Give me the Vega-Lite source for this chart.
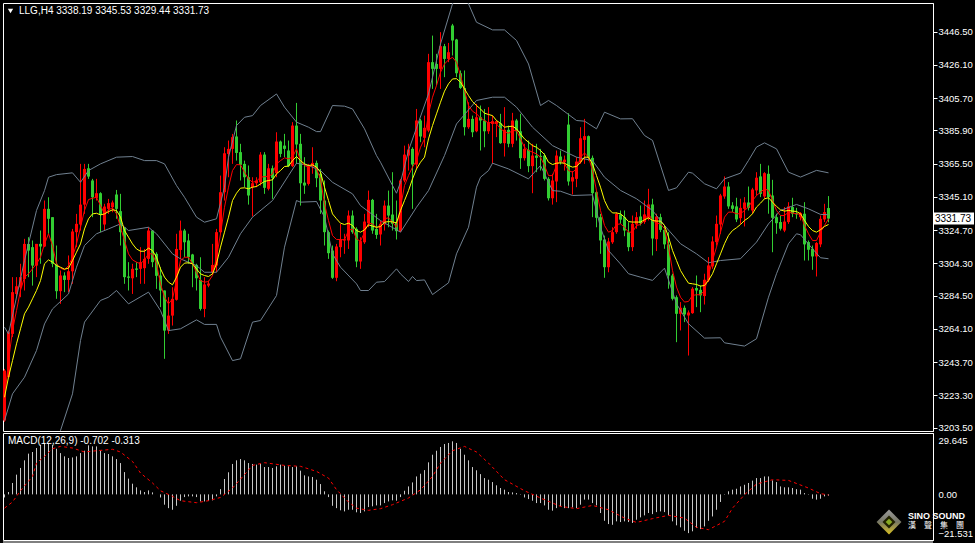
{"$schema":"https://vega.github.io/schema/vega-lite/v6.json","background":"#000000","padding":{"left":2,"top":2,"right":0,"bottom":0},"spacing":-1,"config":{"view":{"stroke":"#ffffff","strokeWidth":1,"fill":"#000000"},"text":{"font":"Liberation Sans"},"axis":{"labelOverlap":false}},
"datasets":{"bars":[
{"k":0,"o":3207.8,"h":3239.5,"l":3207,"c":3238.5,"f":3220.1,"s":3222.1,"m":-1.7},
{"k":1,"o":3234.4,"h":3263,"l":3234.4,"c":3262,"f":3244.6,"s":3234.4,"m":1.3},
{"k":2,"o":3261,"h":3295.8,"l":3259,"c":3286.6,"f":3263,"s":3244.6,"m":6.3},
{"k":3,"o":3285.5,"h":3295.8,"l":3283.5,"c":3290.2,"f":3275.3,"s":3254.9,"m":10.9},
{"k":4,"o":3289.6,"h":3304,"l":3283.5,"c":3295.8,"f":3287.6,"s":3264.1,"m":14.6},
{"k":5,"o":3294.7,"h":3319.3,"l":3287.6,"c":3316.2,"f":3295.8,"s":3273.3,"m":18.8},
{"k":6,"o":3316.2,"h":3320.3,"l":3295.8,"c":3312.1,"f":3297.8,"s":3277.4,"m":22.5},
{"k":7,"o":3314.2,"h":3318.3,"l":3290.6,"c":3302.9,"f":3300.9,"s":3282.5,"m":23.4},
{"k":8,"o":3302.9,"h":3316.2,"l":3295.8,"c":3316.2,"f":3304,"s":3287.6,"m":25.6},
{"k":9,"o":3316.2,"h":3324.4,"l":3304,"c":3314.6,"f":3308,"s":3293.7,"m":27.4},
{"k":10,"o":3314.6,"h":3342.8,"l":3314.2,"c":3337.7,"f":3316.2,"s":3304,"m":28.4},
{"k":11,"o":3337.7,"h":3344.8,"l":3322.4,"c":3331.6,"f":3322.4,"s":3306.4,"m":28.4},
{"k":12,"o":3332.6,"h":3332.6,"l":3301.9,"c":3304,"f":3315.2,"s":3305,"m":27.4},
{"k":13,"o":3304,"h":3315.2,"l":3282.5,"c":3287.2,"f":3304,"s":3302.9,"m":25.2},
{"k":14,"o":3287.2,"h":3299.9,"l":3279.4,"c":3296.8,"f":3301.3,"s":3301.9,"m":22.8},
{"k":15,"o":3296.8,"h":3298.8,"l":3286.6,"c":3294.1,"f":3300.3,"s":3300.7,"m":21},
{"k":16,"o":3294.1,"h":3309.1,"l":3286.6,"c":3299.4,"f":3302.9,"s":3301.3,"m":20.1},
{"k":17,"o":3299.4,"h":3325.4,"l":3291.7,"c":3323.8,"f":3308,"s":3306,"m":20.4},
{"k":18,"o":3323.4,"h":3334.6,"l":3314.2,"c":3328.5,"f":3316.2,"s":3311.1,"m":21},
{"k":19,"o":3328.1,"h":3365.3,"l":3324.4,"c":3340.3,"f":3326.4,"s":3316.2,"m":22.8},
{"k":20,"o":3340.3,"h":3365.3,"l":3334.6,"c":3362.2,"f":3336.7,"s":3325.4,"m":24.1},
{"k":21,"o":3362.6,"h":3365.3,"l":3356.1,"c":3357.5,"f":3343.4,"s":3331.6,"m":27.1},
{"k":22,"o":3355.1,"h":3356.1,"l":3332.6,"c":3344.8,"f":3344.2,"s":3334.6,"m":26.5},
{"k":23,"o":3344.4,"h":3356.1,"l":3342.8,"c":3347.3,"f":3344.8,"s":3335,"m":26.5},
{"k":24,"o":3347.3,"h":3347.9,"l":3323.4,"c":3334.2,"f":3339.7,"s":3334,"m":24.1},
{"k":25,"o":3328.1,"h":3340.8,"l":3324.4,"c":3339.1,"f":3334.6,"s":3334.6,"m":22.8},
{"k":26,"o":3337.7,"h":3343.8,"l":3334.6,"c":3341.2,"f":3337.1,"s":3336,"m":22.3},
{"k":27,"o":3338.7,"h":3342.8,"l":3335.6,"c":3341.6,"f":3338.3,"s":3337.1,"m":21},
{"k":28,"o":3346.5,"h":3349.3,"l":3331.6,"c":3337.7,"f":3334.6,"s":3336.7,"m":19.5},
{"k":29,"o":3336.3,"h":3346.9,"l":3315.2,"c":3323.4,"f":3326.4,"s":3332.6,"m":17.3},
{"k":30,"o":3326.4,"h":3326.4,"l":3291.7,"c":3295.8,"f":3318.3,"s":3324.4,"m":12.3},
{"k":31,"o":3296.2,"h":3305,"l":3287.6,"c":3295.4,"f":3310.1,"s":3320.3,"m":8.7},
{"k":32,"o":3295.1,"h":3304,"l":3285.5,"c":3300.9,"f":3306.4,"s":3316.2,"m":5.9},
{"k":33,"o":3301.1,"h":3305,"l":3295.8,"c":3300.3,"f":3305,"s":3313.1,"m":3.9},
{"k":34,"o":3300.9,"h":3314.2,"l":3291.7,"c":3305,"f":3304,"s":3311.7,"m":2.2},
{"k":35,"o":3301.3,"h":3313.1,"l":3291.7,"c":3307,"f":3306.4,"s":3311.7,"m":1.3},
{"k":36,"o":3307,"h":3326.4,"l":3304,"c":3324.4,"f":3310.1,"s":3313.6,"m":2.2},
{"k":37,"o":3324.4,"h":3324.4,"l":3301.9,"c":3305,"f":3310.1,"s":3312.1,"m":1.1},
{"k":38,"o":3310.1,"h":3311.1,"l":3288.6,"c":3296.6,"f":3304,"s":3308,"m":0},
{"k":39,"o":3296.8,"h":3301.9,"l":3277.4,"c":3287.6,"f":3291.7,"s":3300.9,"m":-1.7},
{"k":40,"o":3287.6,"h":3287.6,"l":3245.7,"c":3263,"f":3283.5,"s":3295.8,"m":-5.7},
{"k":41,"o":3263,"h":3283.5,"l":3261,"c":3272.2,"f":3279.4,"s":3292.7,"m":-7.6},
{"k":42,"o":3272.2,"h":3289.6,"l":3266.1,"c":3282.5,"f":3282.5,"s":3291.1,"m":-8.5},
{"k":43,"o":3281.9,"h":3322.4,"l":3281.4,"c":3313.1,"f":3293.7,"s":3295.8,"m":-6.3},
{"k":44,"o":3312.5,"h":3330.5,"l":3307,"c":3324.4,"f":3306,"s":3301.9,"m":-3.5},
{"k":45,"o":3324.4,"h":3325.4,"l":3308,"c":3317.2,"f":3308,"s":3304.4,"m":-1.5},
{"k":46,"o":3318.3,"h":3322.4,"l":3304,"c":3308,"f":3308,"s":3304.6,"m":-1.1},
{"k":47,"o":3309.7,"h":3310.1,"l":3289.6,"c":3304,"f":3304,"s":3304,"m":-1.1},
{"k":48,"o":3303.3,"h":3304,"l":3287.6,"c":3295.1,"f":3298.8,"s":3300.9,"m":-1.5},
{"k":49,"o":3294.1,"h":3308,"l":3275.3,"c":3276.3,"f":3293.7,"s":3297.8,"m":-3.9},
{"k":50,"o":3276.3,"h":3295.8,"l":3271.2,"c":3291.3,"f":3292.7,"s":3296.8,"m":-3.9},
{"k":51,"o":3290.6,"h":3293.7,"l":3289.6,"c":3291.9,"f":3293.1,"s":3296.2,"m":-3.5},
{"k":52,"o":3298.8,"h":3316.2,"l":3297.8,"c":3303.3,"f":3296.8,"s":3297.8,"m":-3.3},
{"k":53,"o":3302.9,"h":3325.4,"l":3298.8,"c":3323.4,"f":3308,"s":3304,"m":-1.1},
{"k":54,"o":3323.4,"h":3358.1,"l":3322.4,"c":3347.9,"f":3322.4,"s":3314.2,"m":2.9},
{"k":55,"o":3347.9,"h":3375.5,"l":3342.8,"c":3371.8,"f":3338.7,"s":3323.4,"m":8.5},
{"k":56,"o":3371.4,"h":3379.6,"l":3357.1,"c":3374.5,"f":3351,"s":3332.6,"m":12.2},
{"k":57,"o":3374.5,"h":3383.7,"l":3365.3,"c":3381.7,"f":3361.2,"s":3342.8,"m":16.8},
{"k":58,"o":3382.1,"h":3391.9,"l":3367.3,"c":3372,"f":3364.9,"s":3347.3,"m":18.8},
{"k":59,"o":3372.5,"h":3377.6,"l":3355.1,"c":3364.7,"f":3364.7,"s":3350.4,"m":19.5},
{"k":60,"o":3365.3,"h":3367.3,"l":3351,"c":3357.1,"f":3360.2,"s":3350.6,"m":18.8},
{"k":61,"o":3357.1,"h":3364.3,"l":3340.3,"c":3345.9,"f":3356.1,"s":3350,"m":17.3},
{"k":62,"o":3351,"h":3357.1,"l":3333,"c":3353.4,"f":3354,"s":3351,"m":16.8},
{"k":63,"o":3353.4,"h":3357.1,"l":3351,"c":3355.1,"f":3354.7,"s":3351.4,"m":16.4},
{"k":64,"o":3354,"h":3372.5,"l":3352,"c":3371,"f":3357.1,"s":3353,"m":16.9},
{"k":65,"o":3371,"h":3372.5,"l":3346.9,"c":3350.6,"f":3357.5,"s":3354.5,"m":15.1},
{"k":66,"o":3350,"h":3365.3,"l":3349,"c":3362.6,"f":3357.5,"s":3355.1,"m":15.1},
{"k":67,"o":3362.6,"h":3364.3,"l":3343.8,"c":3356.7,"f":3359.2,"s":3355.5,"m":14.6},
{"k":68,"o":3359.6,"h":3384.7,"l":3357.1,"c":3379,"f":3365.3,"s":3359.2,"m":15.5},
{"k":69,"o":3379,"h":3379.6,"l":3369.4,"c":3371.4,"f":3367.3,"s":3361.2,"m":16.4},
{"k":70,"o":3376.5,"h":3383.7,"l":3369.4,"c":3374.5,"f":3369,"s":3363.7,"m":15.8},
{"k":71,"o":3373.5,"h":3379.6,"l":3363.3,"c":3363.9,"f":3368.4,"s":3363.9,"m":15.5},
{"k":72,"o":3363.9,"h":3390.9,"l":3363.3,"c":3388.8,"f":3369.4,"s":3367.3,"m":15.1},
{"k":73,"o":3388.8,"h":3402.7,"l":3365.3,"c":3377.2,"f":3374.5,"s":3369.8,"m":15.5},
{"k":74,"o":3377.6,"h":3383.7,"l":3339.7,"c":3353.4,"f":3367.3,"s":3367.3,"m":13.1},
{"k":75,"o":3353.8,"h":3369.4,"l":3346.9,"c":3352,"f":3364.3,"s":3365.3,"m":10.5},
{"k":76,"o":3353,"h":3365.3,"l":3352,"c":3363.9,"f":3363.3,"s":3364.3,"m":9.9},
{"k":77,"o":3363.9,"h":3375.5,"l":3359.2,"c":3365.9,"f":3364.7,"s":3364.7,"m":9.6},
{"k":78,"o":3365.9,"h":3367.3,"l":3351,"c":3356.5,"f":3362.2,"s":3363.3,"m":8.1},
{"k":79,"o":3359.2,"h":3362.2,"l":3334.6,"c":3342.8,"f":3356.1,"s":3360.2,"m":5.7},
{"k":80,"o":3342.8,"h":3355.1,"l":3315.2,"c":3323.4,"f":3340.8,"s":3351,"m":1.7},
{"k":81,"o":3323.4,"h":3324.4,"l":3307,"c":3310.5,"f":3330.5,"s":3342.8,"m":-1.5},
{"k":82,"o":3312.1,"h":3315.2,"l":3294.7,"c":3295.4,"f":3321.3,"s":3334.6,"m":-6.3},
{"k":83,"o":3295.4,"h":3316.2,"l":3293.3,"c":3314.6,"f":3318.9,"s":3331.6,"m":-7.6},
{"k":84,"o":3314.2,"h":3328.5,"l":3308,"c":3318.7,"f":3318.9,"s":3328.9,"m":-8.8},
{"k":85,"o":3318.3,"h":3322.4,"l":3310.1,"c":3319.1,"f":3318.7,"s":3328.1,"m":-9.4},
{"k":86,"o":3318.3,"h":3336.7,"l":3313.1,"c":3333.6,"f":3324.4,"s":3328.9,"m":-8.5},
{"k":87,"o":3333.6,"h":3336.7,"l":3322.4,"c":3323.4,"f":3325.4,"s":3327.5,"m":-8.5},
{"k":88,"o":3325.4,"h":3326.4,"l":3301.9,"c":3305.4,"f":3319.3,"s":3324.4,"m":-9.9},
{"k":89,"o":3305.4,"h":3320.3,"l":3300.9,"c":3317.9,"f":3317.8,"s":3323.4,"m":-10.3},
{"k":90,"o":3317.2,"h":3334.6,"l":3316.2,"c":3329.9,"f":3323.4,"s":3324.8,"m":-9.4},
{"k":91,"o":3328.9,"h":3348.9,"l":3326.4,"c":3343.2,"f":3328.9,"s":3327.9,"m":-7},
{"k":92,"o":3343.2,"h":3343.8,"l":3322.4,"c":3324.4,"f":3328.5,"s":3327.1,"m":-6.6},
{"k":93,"o":3325.4,"h":3334.6,"l":3319.3,"c":3321.7,"f":3326,"s":3326.4,"m":-6.1},
{"k":94,"o":3322,"h":3330.5,"l":3315.2,"c":3328.5,"f":3328.1,"s":3326.8,"m":-6.1},
{"k":95,"o":3328.1,"h":3342.8,"l":3324.4,"c":3339.7,"f":3331.6,"s":3329.5,"m":-4.8},
{"k":96,"o":3339.7,"h":3348.9,"l":3326.4,"c":3333.6,"f":3332.2,"s":3329.9,"m":-3.9},
{"k":97,"o":3334.2,"h":3360.2,"l":3324.4,"c":3328.5,"f":3329.5,"s":3329.7,"m":-3.3},
{"k":98,"o":3329.5,"h":3342.8,"l":3318.9,"c":3324,"f":3326.4,"s":3329.1,"m":-3.5},
{"k":99,"o":3324,"h":3356.1,"l":3323.4,"c":3355.1,"f":3338.7,"s":3336.7,"m":-1.5},
{"k":100,"o":3355.1,"h":3376.5,"l":3354,"c":3371,"f":3352,"s":3342.8,"m":2},
{"k":101,"o":3370.4,"h":3377.6,"l":3361.2,"c":3374.1,"f":3358.1,"s":3348.9,"m":4.4},
{"k":102,"o":3374.5,"h":3375.5,"l":3337.7,"c":3364.9,"f":3363.3,"s":3356.1,"m":6.6},
{"k":103,"o":3364.9,"h":3399,"l":3362.2,"c":3391.9,"f":3367.3,"s":3362.2,"m":9.9},
{"k":104,"o":3391.9,"h":3392.9,"l":3378.6,"c":3382.1,"f":3375.5,"s":3366.3,"m":11.4},
{"k":105,"o":3381.3,"h":3394.9,"l":3375.5,"c":3387.4,"f":3380.6,"s":3369.4,"m":13.4},
{"k":106,"o":3385.7,"h":3432.8,"l":3384.7,"c":3427.7,"f":3396,"s":3380.6,"m":17.7},
{"k":107,"o":3427.7,"h":3444,"l":3411.3,"c":3423.6,"f":3406.2,"s":3388.8,"m":21.9},
{"k":108,"o":3426.6,"h":3432.8,"l":3413.4,"c":3423.6,"f":3413.4,"s":3396,"m":24.1},
{"k":109,"o":3423.6,"h":3446.1,"l":3411.3,"c":3437.5,"f":3421.5,"s":3403.1,"m":26.2},
{"k":110,"o":3437.5,"h":3438.9,"l":3418.5,"c":3429.7,"f":3426.6,"s":3409.9,"m":27.8},
{"k":111,"o":3429.7,"h":3439.5,"l":3427.7,"c":3433.8,"f":3429.1,"s":3414.4,"m":28.4},
{"k":112,"o":3450.2,"h":3451.2,"l":3431.8,"c":3441,"f":3430.7,"s":3417.4,"m":29.3},
{"k":113,"o":3441.6,"h":3442,"l":3418.5,"c":3420.9,"f":3427.7,"s":3417.6,"m":28.4},
{"k":114,"o":3420.9,"h":3422.6,"l":3411.3,"c":3411.9,"f":3419.5,"s":3415.4,"m":25.2},
{"k":115,"o":3411.9,"h":3422.6,"l":3382.7,"c":3387.8,"f":3410.3,"s":3411.3,"m":21.9},
{"k":116,"o":3387.8,"h":3403.1,"l":3386.8,"c":3392.9,"f":3401.1,"s":3407.2,"m":18.8},
{"k":117,"o":3392.9,"h":3394.9,"l":3381.7,"c":3384.7,"f":3397.6,"s":3403.5,"m":15.1},
{"k":118,"o":3385.3,"h":3402.1,"l":3384.7,"c":3393.9,"f":3396,"s":3401.1,"m":13.3},
{"k":119,"o":3393.9,"h":3401.1,"l":3373.5,"c":3391.9,"f":3393.5,"s":3399,"m":11.2},
{"k":120,"o":3391.9,"h":3399,"l":3375.5,"c":3385.3,"f":3391.9,"s":3396.4,"m":9},
{"k":121,"o":3385.3,"h":3400.1,"l":3383.7,"c":3390.9,"f":3390.4,"s":3395.6,"m":8.1},
{"k":122,"o":3389.8,"h":3394.9,"l":3365.3,"c":3391.5,"f":3390.9,"s":3394.9,"m":6.8},
{"k":123,"o":3389.8,"h":3391.9,"l":3381.7,"c":3391.5,"f":3389.8,"s":3391.9,"m":5},
{"k":124,"o":3390.2,"h":3396,"l":3377.6,"c":3378,"f":3386.8,"s":3390.2,"m":3.5},
{"k":125,"o":3378,"h":3400.1,"l":3369.8,"c":3386.2,"f":3385.1,"s":3387.8,"m":2.6},
{"k":126,"o":3386.2,"h":3388.8,"l":3375.5,"c":3377.6,"f":3384.1,"s":3388.2,"m":1.3},
{"k":127,"o":3377.6,"h":3396.6,"l":3375.5,"c":3391.9,"f":3385.7,"s":3388.4,"m":1.1},
{"k":128,"o":3391.9,"h":3392.9,"l":3379.6,"c":3385.3,"f":3385.7,"s":3386.8,"m":0.7},
{"k":129,"o":3385.3,"h":3396,"l":3362.2,"c":3368.8,"f":3380.6,"s":3383.7,"m":0.2},
{"k":130,"o":3368.8,"h":3377.6,"l":3367.3,"c":3374.5,"f":3375.5,"s":3380.6,"m":-1.7},
{"k":131,"o":3373.9,"h":3379.6,"l":3360.2,"c":3363.9,"f":3373.5,"s":3378.6,"m":-2.6},
{"k":132,"o":3363.9,"h":3377.6,"l":3347.3,"c":3370.4,"f":3372.5,"s":3376.5,"m":-3.5},
{"k":133,"o":3370.4,"h":3377.6,"l":3360.2,"c":3369,"f":3371.4,"s":3375.5,"m":-4.8},
{"k":134,"o":3370.2,"h":3374.5,"l":3361.2,"c":3369.4,"f":3369.4,"s":3373.5,"m":-4.8},
{"k":135,"o":3370.4,"h":3371.8,"l":3355.1,"c":3356.1,"f":3364.3,"s":3371,"m":-6.1},
{"k":136,"o":3356.1,"h":3357.1,"l":3342.8,"c":3344.2,"f":3358.1,"s":3366.3,"m":-8.5},
{"k":137,"o":3344.2,"h":3359.2,"l":3340.3,"c":3355.1,"f":3358.1,"s":3364.9,"m":-9},
{"k":138,"o":3354.5,"h":3373.5,"l":3341.8,"c":3370.4,"f":3364.3,"s":3365.7,"m":-7.6},
{"k":139,"o":3369.8,"h":3373.5,"l":3364.9,"c":3366.3,"f":3367.3,"s":3365.9,"m":-6.6},
{"k":140,"o":3366.3,"h":3370.4,"l":3361.2,"c":3367.9,"f":3365.3,"s":3365.7,"m":-7.6},
{"k":141,"o":3389.4,"h":3396.4,"l":3352,"c":3354.5,"f":3361.2,"s":3364.3,"m":-7.6},
{"k":142,"o":3354.5,"h":3360.8,"l":3346.5,"c":3357.1,"f":3360.2,"s":3363.3,"m":-7.2},
{"k":143,"o":3356.1,"h":3369.4,"l":3351,"c":3366.7,"f":3362.2,"s":3363.7,"m":-7.6},
{"k":144,"o":3366.3,"h":3387.8,"l":3365.3,"c":3381,"f":3369.4,"s":3366.3,"m":-5.7},
{"k":145,"o":3380,"h":3392.9,"l":3365.3,"c":3382.3,"f":3372,"s":3369.4,"m":-2.9},
{"k":146,"o":3382.3,"h":3382.7,"l":3367.3,"c":3369,"f":3369.4,"s":3369.4,"m":-2.9},
{"k":147,"o":3369,"h":3370.4,"l":3332.6,"c":3347.3,"f":3361.2,"s":3365.3,"m":-4.8},
{"k":148,"o":3347.9,"h":3348.9,"l":3326.4,"c":3332.2,"f":3348.9,"s":3358.1,"m":-6.1},
{"k":149,"o":3332.6,"h":3334.6,"l":3310.1,"c":3318.3,"f":3336.7,"s":3351,"m":-10.3},
{"k":150,"o":3318.9,"h":3321.3,"l":3295.4,"c":3301.9,"f":3327.5,"s":3342.8,"m":-14.6},
{"k":151,"o":3301.9,"h":3319.9,"l":3298.8,"c":3317.7,"f":3323.4,"s":3337.7,"m":-16.4},
{"k":152,"o":3317.2,"h":3326.4,"l":3316.2,"c":3323.4,"f":3324.4,"s":3335.2,"m":-16.8},
{"k":153,"o":3323.4,"h":3335.6,"l":3322.4,"c":3334.6,"f":3328.1,"s":3335.2,"m":-14.9},
{"k":154,"o":3334.2,"h":3336.7,"l":3328.5,"c":3331.1,"f":3328.5,"s":3334.6,"m":-15.3},
{"k":155,"o":3332.6,"h":3336.7,"l":3320.9,"c":3324.4,"f":3326.4,"s":3332.6,"m":-14.9},
{"k":156,"o":3323.4,"h":3329.5,"l":3311.7,"c":3314.2,"f":3323.4,"s":3329.9,"m":-15.3},
{"k":157,"o":3314.2,"h":3333.6,"l":3311.8,"c":3328.5,"f":3323.4,"s":3329.6,"m":-15.8},
{"k":158,"o":3328.1,"h":3335.7,"l":3325.5,"c":3332.6,"f":3327.5,"s":3329.6,"m":-14},
{"k":159,"o":3333,"h":3339.8,"l":3327.5,"c":3328.9,"f":3328.1,"s":3329.6,"m":-12.7},
{"k":160,"o":3329.6,"h":3342.8,"l":3328.5,"c":3334.3,"f":3330.6,"s":3331,"m":-11.6},
{"k":161,"o":3332.2,"h":3350,"l":3330.6,"c":3340.4,"f":3334.7,"s":3332.2,"m":-10.3},
{"k":162,"o":3340.4,"h":3343.9,"l":3309.1,"c":3319.5,"f":3330.6,"s":3330.6,"m":-10.9},
{"k":163,"o":3319.1,"h":3334.7,"l":3311.8,"c":3333,"f":3328.9,"s":3330.2,"m":-9.8},
{"k":164,"o":3332.6,"h":3334.7,"l":3323.4,"c":3324.8,"f":3328.5,"s":3330.2,"m":-9.4},
{"k":165,"o":3324.8,"h":3327.5,"l":3313.2,"c":3315.9,"f":3325.5,"s":3327.5,"m":-9.8},
{"k":166,"o":3315.9,"h":3323.4,"l":3288.7,"c":3296.8,"f":3314.2,"s":3320.4,"m":-11.6},
{"k":167,"o":3296.8,"h":3297.9,"l":3281.5,"c":3282.5,"f":3299.9,"s":3312.2,"m":-14.9},
{"k":168,"o":3283.5,"h":3284.6,"l":3255.9,"c":3273.3,"f":3289.7,"s":3306,"m":-17.1},
{"k":169,"o":3273.3,"h":3280.5,"l":3263.1,"c":3277,"f":3283.5,"s":3299.9,"m":-18.2},
{"k":170,"o":3277,"h":3278.4,"l":3268.2,"c":3272.9,"f":3280.5,"s":3295.8,"m":-20.1},
{"k":171,"o":3272.3,"h":3275.4,"l":3247.7,"c":3274.1,"f":3280.9,"s":3292.1,"m":-21.4},
{"k":172,"o":3273.7,"h":3289.7,"l":3273.3,"c":3288.7,"f":3284.6,"s":3291.7,"m":-20.4},
{"k":173,"o":3289.1,"h":3296.8,"l":3277.4,"c":3287.6,"f":3285,"s":3291.3,"m":-18.6},
{"k":174,"o":3288,"h":3290.7,"l":3274.3,"c":3284.6,"f":3285,"s":3290.3,"m":-19.2},
{"k":175,"o":3284.2,"h":3297.9,"l":3279,"c":3294.2,"f":3287.6,"s":3290.7,"m":-17.7},
{"k":176,"o":3293.8,"h":3308.1,"l":3292.8,"c":3303,"f":3296.8,"s":3293.8,"m":-14.6},
{"k":177,"o":3302.4,"h":3320.8,"l":3300.9,"c":3317.7,"f":3306,"s":3297.9,"m":-12.2},
{"k":178,"o":3317.3,"h":3333.6,"l":3315.2,"c":3328.5,"f":3314.2,"s":3304,"m":-8.5},
{"k":179,"o":3328.1,"h":3346.9,"l":3322.4,"c":3345.9,"f":3323.4,"s":3310.1,"m":-4.2},
{"k":180,"o":3345.3,"h":3357.6,"l":3343.9,"c":3351.4,"f":3332.6,"s":3316.3,"m":0.2},
{"k":181,"o":3351.4,"h":3354.1,"l":3337.7,"c":3339.2,"f":3335.7,"s":3321.4,"m":1.7},
{"k":182,"o":3339.8,"h":3341.8,"l":3335.7,"c":3337.7,"f":3335.7,"s":3324.4,"m":2.6},
{"k":183,"o":3339.2,"h":3344.5,"l":3329.6,"c":3331.2,"f":3334.7,"s":3326.1,"m":3.1},
{"k":184,"o":3332,"h":3343.9,"l":3328.5,"c":3338.3,"f":3334.7,"s":3328.1,"m":4.4},
{"k":185,"o":3337.7,"h":3344.9,"l":3326.9,"c":3341.6,"f":3336.7,"s":3330.6,"m":5.3},
{"k":186,"o":3341.6,"h":3351.4,"l":3336.7,"c":3338.3,"f":3338.8,"s":3332.2,"m":6.3},
{"k":187,"o":3336.7,"h":3350.6,"l":3334.7,"c":3349.6,"f":3342.8,"s":3334.7,"m":7.6},
{"k":188,"o":3349,"h":3360.2,"l":3345.9,"c":3356.8,"f":3345.9,"s":3338.8,"m":9},
{"k":189,"o":3357.6,"h":3365.3,"l":3344.9,"c":3346.9,"f":3347.9,"s":3341.2,"m":9},
{"k":190,"o":3345.3,"h":3360.2,"l":3343.9,"c":3359.6,"f":3350,"s":3343.9,"m":9.9},
{"k":191,"o":3359.2,"h":3364.3,"l":3334.7,"c":3344.9,"f":3349,"s":3344.5,"m":9.9},
{"k":192,"o":3345.9,"h":3355.5,"l":3311.1,"c":3332.2,"f":3342.8,"s":3341.8,"m":7.7},
{"k":193,"o":3332.6,"h":3334.7,"l":3322.4,"c":3328.9,"f":3336.7,"s":3339.2,"m":6.8},
{"k":194,"o":3329.6,"h":3333.6,"l":3324.4,"c":3325.5,"f":3333.6,"s":3337.1,"m":4.4},
{"k":195,"o":3324.4,"h":3338.8,"l":3323.4,"c":3329.9,"f":3333.6,"s":3336.3,"m":3.9},
{"k":196,"o":3329.6,"h":3341.8,"l":3328.5,"c":3339.2,"f":3335.7,"s":3336.7,"m":3.9},
{"k":197,"o":3338.8,"h":3344.5,"l":3332.6,"c":3334.7,"f":3335.1,"s":3336.3,"m":3.5},
{"k":198,"o":3335.1,"h":3338.3,"l":3331.6,"c":3334.3,"f":3334.7,"s":3336.1,"m":2.9},
{"k":199,"o":3332.6,"h":3335.7,"l":3330.6,"c":3335.1,"f":3334.3,"s":3334.7,"m":2.6},
{"k":200,"o":3334.7,"h":3341.8,"l":3306,"c":3315.9,"f":3327.5,"s":3330.6,"m":0.7},
{"k":201,"o":3317.3,"h":3318.3,"l":3306,"c":3312.6,"f":3322.4,"s":3326.9,"m":0.2},
{"k":202,"o":3313.2,"h":3315.2,"l":3300.3,"c":3308.5,"f":3318.3,"s":3324.4,"m":-2.4},
{"k":203,"o":3308.5,"h":3317.3,"l":3296.2,"c":3316.7,"f":3318.3,"s":3323.4,"m":-2.9},
{"k":204,"o":3315.9,"h":3333.6,"l":3314.2,"c":3331.6,"f":3323.4,"s":3324.9,"m":-2.4},
{"k":205,"o":3331.2,"h":3340.8,"l":3329.6,"c":3335.7,"f":3327.5,"s":3326.9,"m":-1.1},
{"k":206,"o":3338.19,"h":3345.53,"l":3329.44,"c":3331.73,"f":3331.6,"s":3328.1,"m":-0.702}
],
"bands":[
{"b":"u","k":0,"v":3265.1},{"b":"u","k":1,"v":3261},{"b":"u","k":5,"v":3306},{"b":"u","k":8,"v":3336.7},{"b":"u","k":10,"v":3348.9},{"b":"u","k":11,"v":3357.1},{"b":"u","k":13,"v":3358.7},{"b":"u","k":17,"v":3359.8},{"b":"u","k":19,"v":3354},{"b":"u","k":21,"v":3361.2},{"b":"u","k":24,"v":3365.3},{"b":"u","k":28,"v":3369.4},{"b":"u","k":32,"v":3369.8},{"b":"u","k":35,"v":3367.3},{"b":"u","k":38,"v":3367.3},{"b":"u","k":40,"v":3365.3},{"b":"u","k":43,"v":3352},{"b":"u","k":45,"v":3344.8},{"b":"u","k":48,"v":3332.6},{"b":"u","k":50,"v":3329.5},{"b":"u","k":53,"v":3331.6},{"b":"u","k":55,"v":3351},{"b":"u","k":56,"v":3369.4},{"b":"u","k":58,"v":3388.8},{"b":"u","k":60,"v":3393.9},{"b":"u","k":62,"v":3394.9},{"b":"u","k":64,"v":3401.1},{"b":"u","k":68,"v":3408.2},{"b":"u","k":70,"v":3400.1},{"b":"u","k":73,"v":3390.9},{"b":"u","k":76,"v":3387.8},{"b":"u","k":78,"v":3385.1},{"b":"u","k":79,"v":3385.1},{"b":"u","k":82,"v":3401.1},{"b":"u","k":85,"v":3400.7},{"b":"u","k":87,"v":3399},{"b":"u","k":90,"v":3386.8},{"b":"u","k":93,"v":3370.4},{"b":"u","k":94,"v":3366.3},{"b":"u","k":98,"v":3347.3},{"b":"u","k":99,"v":3354},{"b":"u","k":101,"v":3373.5},{"b":"u","k":106,"v":3408.2},{"b":"u","k":109,"v":3438.9},{"b":"u","k":112,"v":3463.5},{"b":"u","k":114,"v":3471},{"b":"u","k":116,"v":3463.5},{"b":"u","k":118,"v":3452.2},{"b":"u","k":122,"v":3447.5},{"b":"u","k":125,"v":3447.5},{"b":"u","k":128,"v":3441},{"b":"u","k":131,"v":3426.6},{"b":"u","k":134,"v":3401.1},{"b":"u","k":136,"v":3404.2},{"b":"u","k":138,"v":3401.1},{"b":"u","k":143,"v":3391.9},{"b":"u","k":145,"v":3391.5},{"b":"u","k":148,"v":3386.8},{"b":"u","k":150,"v":3397},{"b":"u","k":154,"v":3392.9},{"b":"u","k":157,"v":3393},{"b":"u","k":160,"v":3382.7},{"b":"u","k":162,"v":3379.7},{"b":"u","k":166,"v":3349},{"b":"u","k":168,"v":3350.6},{"b":"u","k":171,"v":3360.2},{"b":"u","k":172,"v":3359.6},{"b":"u","k":175,"v":3353.1},{"b":"u","k":178,"v":3350},{"b":"u","k":180,"v":3356.1},{"b":"u","k":184,"v":3359.6},{"b":"u","k":186,"v":3367.4},{"b":"u","k":188,"v":3375.6},{"b":"u","k":190,"v":3378.2},{"b":"u","k":193,"v":3374.5},{"b":"u","k":196,"v":3360.2},{"b":"u","k":199,"v":3357.2},{"b":"u","k":203,"v":3361.3},{"b":"u","k":206,"v":3359.8},
{"b":"m","k":0,"v":3207.8},{"b":"m","k":2,"v":3224.2},{"b":"m","k":5,"v":3234.4},{"b":"m","k":8,"v":3250.8},{"b":"m","k":10,"v":3267.1},{"b":"m","k":12,"v":3276.3},{"b":"m","k":16,"v":3285.5},{"b":"m","k":18,"v":3301.9},{"b":"m","k":20,"v":3315.2},{"b":"m","k":23,"v":3322.4},{"b":"m","k":26,"v":3325.4},{"b":"m","k":29,"v":3328.5},{"b":"m","k":31,"v":3324.4},{"b":"m","k":36,"v":3326.4},{"b":"m","k":38,"v":3322.4},{"b":"m","k":42,"v":3310.1},{"b":"m","k":44,"v":3307},{"b":"m","k":48,"v":3302.9},{"b":"m","k":50,"v":3298.8},{"b":"m","k":53,"v":3298.8},{"b":"m","k":56,"v":3308},{"b":"m","k":59,"v":3322.4},{"b":"m","k":62,"v":3332.6},{"b":"m","k":67,"v":3342.8},{"b":"m","k":71,"v":3358.1},{"b":"m","k":73,"v":3365.7},{"b":"m","k":76,"v":3364.3},{"b":"m","k":79,"v":3361.2},{"b":"m","k":82,"v":3354},{"b":"m","k":87,"v":3346.9},{"b":"m","k":89,"v":3339.7},{"b":"m","k":94,"v":3330.5},{"b":"m","k":99,"v":3323.4},{"b":"m","k":103,"v":3338.7},{"b":"m","k":106,"v":3348.9},{"b":"m","k":110,"v":3370.4},{"b":"m","k":113,"v":3389.8},{"b":"m","k":118,"v":3404.2},{"b":"m","k":122,"v":3406.2},{"b":"m","k":125,"v":3406.2},{"b":"m","k":128,"v":3400.1},{"b":"m","k":132,"v":3387.8},{"b":"m","k":137,"v":3376.5},{"b":"m","k":143,"v":3369.4},{"b":"m","k":147,"v":3367.3},{"b":"m","k":150,"v":3357.1},{"b":"m","k":154,"v":3349},{"b":"m","k":158,"v":3343.9},{"b":"m","k":162,"v":3336.7},{"b":"m","k":165,"v":3327.5},{"b":"m","k":169,"v":3316.3},{"b":"m","k":173,"v":3310.1},{"b":"m","k":176,"v":3304.6},{"b":"m","k":179,"v":3306},{"b":"m","k":184,"v":3307.1},{"b":"m","k":188,"v":3317.3},{"b":"m","k":191,"v":3328.5},{"b":"m","k":194,"v":3336.7},{"b":"m","k":198,"v":3340.4},{"b":"m","k":201,"v":3337.7},{"b":"m","k":204,"v":3334.3},{"b":"m","k":206,"v":3334.1},
{"b":"l","k":13,"v":3190},{"b":"l","k":14,"v":3201.7},{"b":"l","k":17,"v":3224.2},{"b":"l","k":19,"v":3256.9},{"b":"l","k":20,"v":3268.2},{"b":"l","k":24,"v":3281.5},{"b":"l","k":26,"v":3283.5},{"b":"l","k":28,"v":3287.6},{"b":"l","k":31,"v":3279.4},{"b":"l","k":36,"v":3286.6},{"b":"l","k":39,"v":3275.3},{"b":"l","k":41,"v":3263},{"b":"l","k":44,"v":3264.1},{"b":"l","k":48,"v":3269.6},{"b":"l","k":50,"v":3266.8},{"b":"l","k":53,"v":3266.8},{"b":"l","k":54,"v":3259},{"b":"l","k":57,"v":3244.6},{"b":"l","k":59,"v":3245.7},{"b":"l","k":62,"v":3268.2},{"b":"l","k":64,"v":3269.2},{"b":"l","k":68,"v":3284.5},{"b":"l","k":70,"v":3314.2},{"b":"l","k":73,"v":3342.8},{"b":"l","k":74,"v":3341.8},{"b":"l","k":78,"v":3342.2},{"b":"l","k":80,"v":3332.6},{"b":"l","k":82,"v":3310.1},{"b":"l","k":84,"v":3301.9},{"b":"l","k":88,"v":3291.7},{"b":"l","k":89,"v":3287.6},{"b":"l","k":91,"v":3287.6},{"b":"l","k":93,"v":3292.7},{"b":"l","k":95,"v":3293.1},{"b":"l","k":98,"v":3300.9},{"b":"l","k":99,"v":3297.8},{"b":"l","k":101,"v":3293.1},{"b":"l","k":102,"v":3296.2},{"b":"l","k":103,"v":3293.7},{"b":"l","k":105,"v":3294.1},{"b":"l","k":107,"v":3285.1},{"b":"l","k":111,"v":3292.3},{"b":"l","k":113,"v":3310.1},{"b":"l","k":116,"v":3326.4},{"b":"l","k":118,"v":3351},{"b":"l","k":119,"v":3357.1},{"b":"l","k":121,"v":3361.2},{"b":"l","k":122,"v":3365.7},{"b":"l","k":126,"v":3362.2},{"b":"l","k":131,"v":3356.1},{"b":"l","k":134,"v":3364.3},{"b":"l","k":137,"v":3348.9},{"b":"l","k":139,"v":3348.5},{"b":"l","k":142,"v":3345.9},{"b":"l","k":147,"v":3346.3},{"b":"l","k":149,"v":3326.4},{"b":"l","k":151,"v":3312.1},{"b":"l","k":154,"v":3303.9},{"b":"l","k":156,"v":3297.9},{"b":"l","k":159,"v":3295.8},{"b":"l","k":162,"v":3293.8},{"b":"l","k":165,"v":3301.3},{"b":"l","k":168,"v":3279.5},{"b":"l","k":171,"v":3267.2},{"b":"l","k":175,"v":3258.4},{"b":"l","k":179,"v":3258.6},{"b":"l","k":180,"v":3255.5},{"b":"l","k":185,"v":3253.5},{"b":"l","k":188,"v":3258},{"b":"l","k":191,"v":3283.5},{"b":"l","k":193,"v":3297.9},{"b":"l","k":196,"v":3316.3},{"b":"l","k":198,"v":3322.4},{"b":"l","k":199,"v":3321.8},{"b":"l","k":202,"v":3313.2},{"b":"l","k":204,"v":3307.7},{"b":"l","k":206,"v":3307.1}
],
"signal":[{"k":0,"v":-7.6},{"k":2,"v":-4.2},{"k":4,"v":2},{"k":7,"v":9.9},{"k":8,"v":17.3},{"k":10,"v":21},{"k":12,"v":25.2},{"k":14,"v":26.5},{"k":17,"v":25.6},{"k":20,"v":23.4},{"k":23,"v":24.1},{"k":27,"v":24.9},{"k":29,"v":23.4},{"k":32,"v":18.2},{"k":34,"v":11.8},{"k":37,"v":6.3},{"k":39,"v":2},{"k":42,"v":-1.1},{"k":44,"v":-3.5},{"k":48,"v":-4.6},{"k":51,"v":-3.5},{"k":54,"v":-1.7},{"k":57,"v":3.5},{"k":60,"v":10.9},{"k":62,"v":16},{"k":65,"v":17.5},{"k":70,"v":16},{"k":74,"v":15.5},{"k":78,"v":12.7},{"k":81,"v":9},{"k":83,"v":2.6},{"k":86,"v":-4.2},{"k":88,"v":-7.6},{"k":91,"v":-8.8},{"k":94,"v":-7.9},{"k":97,"v":-5.7},{"k":101,"v":-2},{"k":104,"v":2.5},{"k":107,"v":9.9},{"k":109,"v":17.3},{"k":112,"v":24.1},{"k":115,"v":26.5},{"k":118,"v":23.4},{"k":121,"v":17.3},{"k":125,"v":8.1},{"k":130,"v":2},{"k":134,"v":-2},{"k":139,"v":-6.6},{"k":143,"v":-7.9},{"k":147,"v":-6.1},{"k":151,"v":-8.5},{"k":155,"v":-13.1},{"k":158,"v":-15.5},{"k":162,"v":-13.4},{"k":166,"v":-11.6},{"k":170,"v":-13.1},{"k":173,"v":-18.2},{"k":176,"v":-19.5},{"k":180,"v":-14.9},{"k":182,"v":-7.6},{"k":185,"v":-0.2},{"k":188,"v":5.7},{"k":192,"v":8.1},{"k":196,"v":7.7},{"k":201,"v":3.5},{"k":204,"v":0.4},{"k":206,"v":-0.313}],
"last":[{"price":3331.73,"label":"3331.73"}],
"header":[{"label":"LLG,H4 3338.19 3345.53 3329.44 3331.73"}],
"macdTitle":[{"label":"MACD(12,26,9) -0.702 -0.313"}],
"brand":[{"en":"SINO SOUND","zh":"漢　聲　集　團"}]
},
"vconcat":[
{"width":930,"height":428,
"encoding":{"x":{"field":"k","type":"quantitative","scale":{"domain":[-0.375,232.125],"nice":false,"zero":false},"axis":null}},
"layer":[
{"data":{"name":"bars"},"mark":{"type":"rule","strokeWidth":1},"encoding":{"y":{"field":"l","type":"quantitative","scale":{"domain":[3201.4,3464],"nice":false,"zero":false},"title":null,"axis":{"orient":"right","values":[3446.5,3426.1,3405.7,3385.9,3365.5,3345.1,3324.7,3304.3,3284.5,3264.1,3243.7,3223.3,3203.5],"tickCount":13,"format":".2f","grid":false,"domain":true,"domainColor":"#ffffff","tickColor":"#ffffff","tickSize":4,"labelColor":"#ffffff","labelFont":"Liberation Sans","labelFontSize":9.5,"labelPadding":1,"labelFlush":false,"labelOverlap":false,"title":null}},"y2":{"field":"h"},"color":{"condition":{"test":"datum.c>=datum.o","value":"#ff0000"},"value":"#32cd32"}}},
{"data":{"name":"bars"},"mark":{"type":"rule","strokeWidth":3},"encoding":{"y":{"field":"o","type":"quantitative","axis":{"tickCount":13}},"y2":{"field":"c"},"color":{"condition":{"test":"datum.c>=datum.o","value":"#ff0000"},"value":"#32cd32"}}},
{"data":{"name":"bands"},"mark":{"type":"line","strokeWidth":1,"color":"#708090","clip":true},"encoding":{"y":{"field":"v","type":"quantitative","axis":{"tickCount":13}},"detail":{"field":"b"}}},
{"data":{"name":"bars"},"mark":{"type":"line","strokeWidth":1,"color":"#ff0000"},"encoding":{"y":{"field":"f","type":"quantitative","axis":{"tickCount":13}}}},
{"data":{"name":"bars"},"mark":{"type":"line","strokeWidth":1,"color":"#ffff00"},"encoding":{"y":{"field":"s","type":"quantitative","axis":{"tickCount":13}}}},
{"data":{"name":"last"},"mark":{"type":"rule","strokeWidth":12,"color":"#ffffff","clip":false},"encoding":{"x":{"value":931},"x2":{"value":971},"y":{"field":"price","type":"quantitative","axis":{"tickCount":13}}}},
{"data":{"name":"last"},"mark":{"type":"text","align":"center","baseline":"middle","fontSize":10,"color":"#000000","font":"Liberation Sans","clip":false},"encoding":{"x":{"value":950},"y":{"field":"price","type":"quantitative","axis":{"tickCount":13}},"text":{"field":"label"}}},
{"data":{"name":"header"},"mark":{"type":"text","align":"left","baseline":"middle","fontSize":10,"color":"#ffffff","font":"Liberation Sans"},"encoding":{"x":{"value":16},"y":{"value":8},"text":{"field":"label"}}},
{"data":{"name":"header"},"mark":{"type":"point","shape":"triangle-down","filled":true,"size":28,"color":"#ffffff","opacity":1},"encoding":{"x":{"value":7.5},"y":{"value":8}}}
]},
{"width":930,"height":107,
"encoding":{"x":{"field":"k","type":"quantitative","scale":{"domain":[-0.375,232.125],"nice":false,"zero":false},"axis":null}},
"layer":[
{"data":{"name":"bars"},"mark":{"type":"rule","strokeWidth":1,"color":"#c8c8c8"},"encoding":{"y":{"field":"m","type":"quantitative","scale":{"domain":[-25.2,33.9],"nice":false,"zero":false},"title":null,"axis":{"orient":"right","values":[29.645,0,-21.531],"labelExpr":"datum.value==0?'0.00':format(datum.value,'.3f')","grid":false,"domain":true,"domainColor":"#ffffff","ticks":false,"labelColor":"#ffffff","labelFont":"Liberation Sans","labelFontSize":9.5,"labelPadding":5,"labelFlush":false,"labelOverlap":false,"title":null}},"y2":{"datum":0}}},
{"data":{"name":"signal"},"mark":{"type":"line","strokeWidth":1,"color":"#ff0000","strokeDash":[3,3]},"encoding":{"y":{"field":"v","type":"quantitative","axis":{"labelOverlap":false}}}},
{"data":{"name":"macdTitle"},"mark":{"type":"text","align":"left","baseline":"middle","fontSize":10,"color":"#ffffff","font":"Liberation Sans"},"encoding":{"x":{"value":5},"y":{"value":8},"text":{"field":"label"}}},
{"data":{"name":"brand"},"mark":{"type":"rule","strokeWidth":1,"color":"#ffffff","clip":false},"encoding":{"x":{"value":0},"x2":{"value":930},"y":{"value":109}}},
{"data":{"name":"brand"},"mark":{"type":"point","shape":"diamond","filled":true,"size":620,"opacity":1,"clip":false,"color":{"x1":0,"y1":0,"x2":0,"y2":1,"gradient":"linear","stops":[{"offset":0,"color":"#9a9a9a"},{"offset":0.5,"color":"#777766"},{"offset":1,"color":"#d8c020"}]}},"encoding":{"x":{"value":886},"y":{"value":89}}},
{"data":{"name":"brand"},"mark":{"type":"point","shape":"diamond","filled":true,"size":170,"opacity":1,"color":"#222200","clip":false},"encoding":{"x":{"value":886},"y":{"value":89}}},
{"data":{"name":"brand"},"mark":{"type":"point","shape":"diamond","filled":true,"size":45,"opacity":1,"color":"#88aa22","clip":false},"encoding":{"x":{"value":886},"y":{"value":89}}},
{"data":{"name":"brand"},"mark":{"type":"text","align":"left","baseline":"middle","fontSize":9,"fontWeight":"bold","color":"#ffffff","font":"Liberation Sans","clip":false},"encoding":{"x":{"value":905},"y":{"value":83},"text":{"field":"en"}}},
{"data":{"name":"brand"},"mark":{"type":"text","align":"left","baseline":"middle","fontSize":8,"color":"#ffffff","font":"Noto Sans CJK TC","clip":false},"encoding":{"x":{"value":905},"y":{"value":93},"text":{"field":"zh"}}}
]}
]}
